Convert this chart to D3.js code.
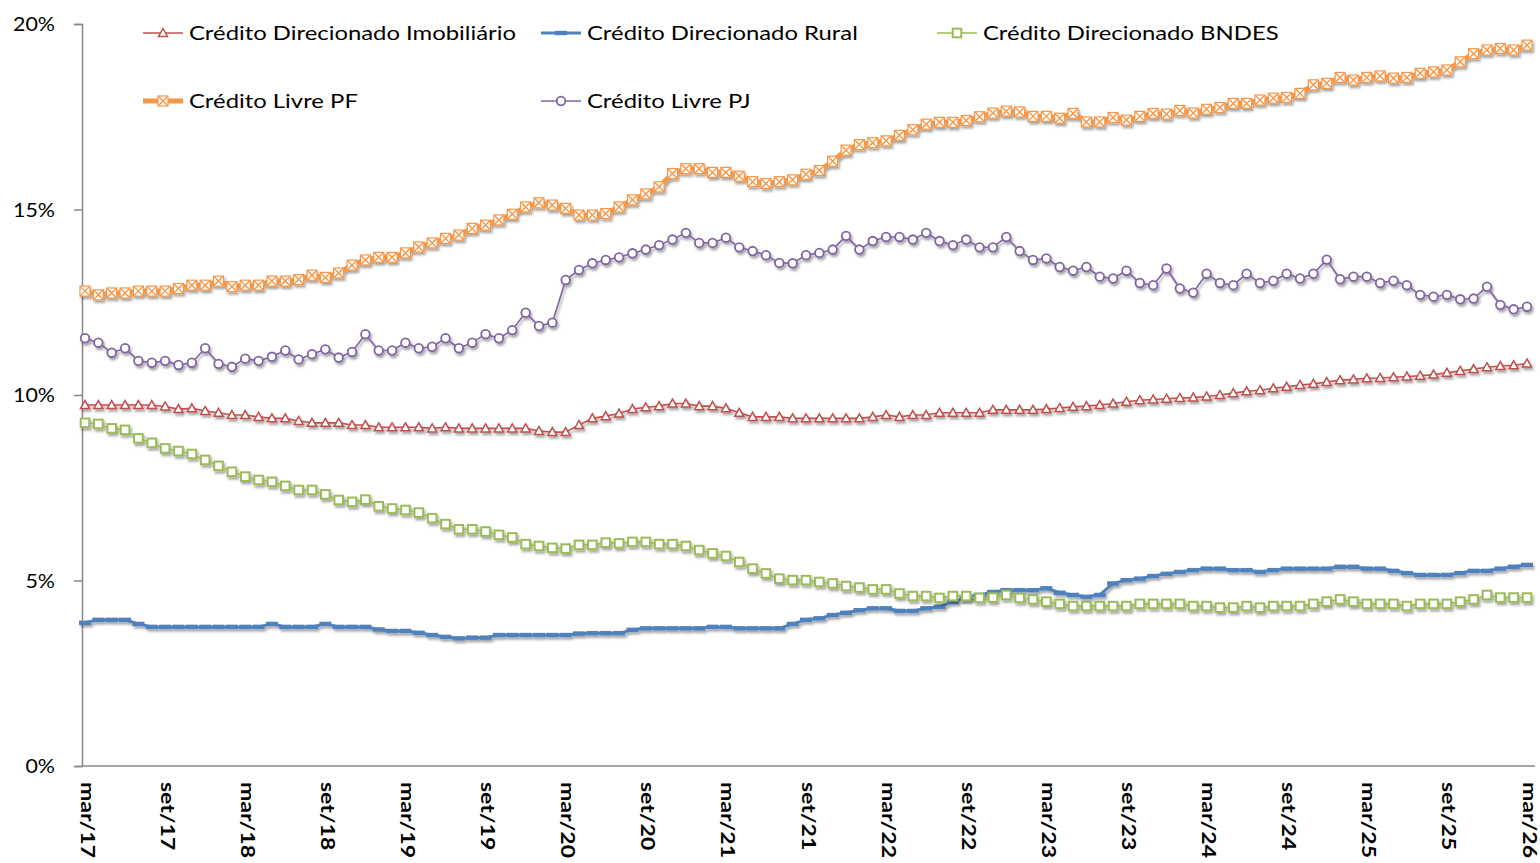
<!DOCTYPE html>
<html><head><meta charset="utf-8">
<script src="https://cdn.jsdelivr.net/npm/d3@7"></script>
<style>body{margin:0;background:#fff}svg{display:block}</style>
</head><body>
<svg id="chart" width="1540" height="863"></svg>
<script>
const monthAbbr = ["jan","fev","mar","abr","mai","jun","jul","ago","set","out","nov","dez"];
const categories = [];
for (let k = 0; k < 109; k++) { const m = (2 + k) % 12, yr = 17 + Math.floor((2 + k) / 12); categories.push(monthAbbr[m] + "/" + yr); }
const tickLabels = ["mar/17","set/17","mar/18","set/18","mar/19","set/19","mar/20","set/20","mar/21","set/21","mar/22","set/22","mar/23","set/23","mar/24","set/24","mar/25","set/25","mar/26"];
const yTicks = [0, 5, 10, 15, 20];

const imobiliario = [9.73,9.73,9.73,9.73,9.73,9.73,9.69,9.62,9.64,9.57,9.52,9.46,9.46,9.41,9.37,9.37,9.30,9.25,9.25,9.25,9.19,9.19,9.13,9.13,9.13,9.13,9.10,9.13,9.10,9.10,9.10,9.10,9.10,9.10,9.03,9.00,9.00,9.19,9.37,9.43,9.50,9.62,9.67,9.70,9.77,9.77,9.70,9.70,9.64,9.52,9.41,9.41,9.41,9.37,9.37,9.37,9.37,9.37,9.37,9.41,9.46,9.41,9.46,9.46,9.52,9.52,9.52,9.52,9.60,9.60,9.60,9.60,9.62,9.65,9.68,9.70,9.73,9.77,9.82,9.86,9.88,9.90,9.92,9.93,9.96,10.00,10.05,10.10,10.13,10.18,10.22,10.27,10.30,10.35,10.40,10.42,10.45,10.46,10.48,10.50,10.52,10.55,10.60,10.65,10.70,10.75,10.78,10.80,10.85];
const rural = [3.86,3.94,3.94,3.94,3.83,3.75,3.75,3.75,3.75,3.75,3.75,3.75,3.75,3.75,3.83,3.75,3.75,3.75,3.83,3.75,3.75,3.75,3.68,3.64,3.64,3.59,3.53,3.48,3.44,3.46,3.46,3.53,3.53,3.53,3.53,3.53,3.53,3.57,3.58,3.58,3.58,3.67,3.71,3.71,3.71,3.71,3.71,3.75,3.75,3.71,3.71,3.71,3.71,3.83,3.94,3.98,4.07,4.13,4.20,4.25,4.25,4.18,4.18,4.25,4.29,4.43,4.52,4.61,4.69,4.74,4.74,4.74,4.79,4.67,4.61,4.56,4.61,4.92,5.01,5.05,5.12,5.18,5.23,5.28,5.32,5.32,5.28,5.28,5.23,5.28,5.32,5.32,5.32,5.32,5.37,5.37,5.32,5.32,5.26,5.20,5.15,5.15,5.15,5.20,5.26,5.26,5.32,5.37,5.42];
const bndes = [9.25,9.22,9.10,9.06,8.83,8.71,8.56,8.49,8.41,8.25,8.09,7.93,7.80,7.71,7.66,7.55,7.44,7.44,7.32,7.17,7.12,7.18,7.00,6.94,6.90,6.83,6.68,6.52,6.38,6.38,6.32,6.23,6.16,5.98,5.93,5.88,5.86,5.96,5.96,6.02,6.00,6.04,6.04,5.98,5.98,5.93,5.82,5.73,5.66,5.50,5.32,5.19,5.05,5.01,5.01,4.96,4.92,4.85,4.81,4.76,4.76,4.65,4.58,4.58,4.53,4.58,4.58,4.53,4.54,4.61,4.53,4.49,4.43,4.37,4.31,4.31,4.31,4.31,4.31,4.37,4.37,4.37,4.37,4.31,4.31,4.27,4.27,4.31,4.27,4.31,4.31,4.31,4.37,4.43,4.49,4.43,4.37,4.37,4.37,4.31,4.37,4.37,4.37,4.43,4.49,4.61,4.54,4.54,4.54];
const livrePF = [12.80,12.70,12.75,12.75,12.80,12.80,12.80,12.87,12.96,12.96,13.07,12.92,12.96,12.96,13.07,13.07,13.11,13.23,13.17,13.29,13.50,13.64,13.71,13.71,13.83,13.99,14.10,14.22,14.31,14.49,14.58,14.72,14.87,15.07,15.18,15.12,15.03,14.85,14.85,14.89,15.07,15.26,15.42,15.61,15.97,16.10,16.10,16.00,16.00,15.90,15.75,15.70,15.75,15.80,15.95,16.05,16.30,16.60,16.75,16.80,16.85,17.00,17.15,17.30,17.35,17.35,17.40,17.50,17.60,17.65,17.63,17.51,17.51,17.46,17.59,17.36,17.36,17.48,17.41,17.51,17.59,17.57,17.67,17.60,17.70,17.75,17.86,17.86,17.95,18.00,18.02,18.13,18.36,18.40,18.56,18.49,18.56,18.60,18.54,18.56,18.67,18.71,18.76,18.98,19.20,19.30,19.34,19.30,19.43];
const livrePJ = [11.53,11.41,11.14,11.26,10.92,10.87,10.92,10.81,10.87,11.26,10.84,10.76,10.98,10.92,11.03,11.20,10.96,11.10,11.23,11.01,11.16,11.64,11.20,11.20,11.41,11.26,11.30,11.53,11.26,11.41,11.64,11.53,11.75,12.22,11.86,11.95,13.10,13.37,13.55,13.64,13.71,13.82,13.92,14.04,14.19,14.37,14.10,14.10,14.24,13.98,13.88,13.77,13.56,13.55,13.77,13.83,13.92,14.29,13.92,14.15,14.26,14.26,14.19,14.37,14.15,14.04,14.19,13.98,13.98,14.26,13.88,13.64,13.68,13.45,13.35,13.45,13.19,13.14,13.35,13.02,12.96,13.41,12.87,12.76,13.27,13.02,12.96,13.27,13.02,13.08,13.27,13.14,13.27,13.65,13.12,13.19,13.19,13.02,13.08,12.96,12.70,12.65,12.70,12.58,12.60,12.92,12.43,12.31,12.38];

const seriesNames = ["Crédito Direcionado Imobiliário","Crédito Direcionado Rural","Crédito Direcionado BNDES","Crédito Livre PF","Crédito Livre PJ"];
const seriesValues = [imobiliario, rural, bndes, livrePF, livrePJ];
const seriesColors = ["#C0504D","#4F81BD","#9BBB59","#F79646","#8064A2"];
const seriesWidths = [1.6, 3, 1.6, 5, 1.6];
const seriesMarkers = ["triangle","dash","square","xbox","circle"];

const svg = d3.select("#chart");
const defs = svg.append("defs");
const f = defs.append("filter").attr("id","shadow").attr("x","-5%").attr("y","-5%").attr("width","110%").attr("height","120%");
f.append("feDropShadow").attr("dx",1.5).attr("dy",2.5).attr("stdDeviation",1.3).attr("flood-color","#000").attr("flood-opacity",0.35);

const x = d3.scalePoint().domain(categories).range([85, 1527]);
const y = d3.scaleLinear().domain([0, 20]).range([766, 24]);
const axisColor = "#888";

// y axis
const yAxis = d3.axisLeft(y).tickValues(yTicks).tickSize(8).tickFormat(d => d + "%");
const gy = svg.append("g").attr("transform","translate(82,0)").call(yAxis);
gy.select(".domain").attr("stroke", axisColor).attr("stroke-width",1.5);
gy.selectAll(".tick line").attr("stroke", axisColor).attr("stroke-width",1.5);
gy.selectAll(".tick text").attr("x",-27).attr("font-family","Lato, 'Open Sans', sans-serif").attr("font-size",19).attr("fill","#000").attr("dy","0.35em");

// x axis
const xAxis = d3.axisBottom(x).tickValues(tickLabels).tickSize(0).tickFormat(d => d);
const gx = svg.append("g").attr("transform","translate(0,766)").call(xAxis);
gx.select(".domain").attr("d","M82,0H1535").attr("stroke", axisColor).attr("stroke-width",1.5);
gx.selectAll(".tick text")
  .attr("font-family","Lato, 'Open Sans', sans-serif").attr("font-size",18).attr("font-weight","bold").attr("fill","#000")
  .attr("text-anchor","start").attr("dy",null).attr("y",null)
  .attr("dominant-baseline","central")
  .attr("transform","translate(2,16) rotate(90)");

function stretch(sel, factor) {
  sel.each(function(){ const w = this.getComputedTextLength(); d3.select(this).attr("textLength", w*factor).attr("lengthAdjust","spacingAndGlyphs"); });
}
const firstX = gx.select(".tick text").node();
const kx = 76 / firstX.getComputedTextLength();
stretch(gx.selectAll(".tick text"), kx);
const y20 = gy.selectAll(".tick text").filter(d => d === 20).node();
stretch(gy.selectAll(".tick text"), 42 / y20.getComputedTextLength());

function drawMarker(g, type, color, cx, cy) {
  if (type === "triangle") {
    g.append("path").attr("d", `M${cx},${cy-4.5}L${cx+4.5},${cy+3.5}L${cx-4.5},${cy+3.5}Z`).attr("fill","#fff").attr("stroke",color).attr("stroke-width",1.5);
  } else if (type === "dash") {
    g.append("rect").attr("x",cx-6).attr("y",cy-2.2).attr("width",12).attr("height",4.4).attr("fill",color);
  } else if (type === "square") {
    g.append("rect").attr("x",cx-4.3).attr("y",cy-4.3).attr("width",8.6).attr("height",8.6).attr("fill","#fff").attr("stroke",color).attr("stroke-width",2);
  } else if (type === "xbox") {
    g.append("rect").attr("x",cx-5).attr("y",cy-5).attr("width",10).attr("height",10).attr("fill","#fff").attr("stroke",color).attr("stroke-width",1.2);
    g.append("path").attr("d",`M${cx-4.5},${cy-4.5}L${cx+4.5},${cy+4.5}M${cx+4.5},${cy-4.5}L${cx-4.5},${cy+4.5}`).attr("stroke",color).attr("stroke-width",1.4);
  } else if (type === "circle") {
    g.append("circle").attr("cx",cx).attr("cy",cy).attr("r",4.3).attr("fill","#fff").attr("stroke",color).attr("stroke-width",1.8);
  }
}

const line = d3.line().x((d,i) => x(categories[i])).y(d => y(d));
seriesValues.forEach((vals, s) => {
  const g = svg.append("g").attr("filter","url(#shadow)");
  g.append("path").attr("d", line(vals)).attr("fill","none").attr("stroke",seriesColors[s]).attr("stroke-width",seriesWidths[s]).attr("stroke-linejoin","round");
  vals.forEach((v,i) => drawMarker(g, seriesMarkers[s], seriesColors[s], x(categories[i]), y(v)));
});

// legend
const legendPos = [[143,33],[541,33],[937,33],[143,101],[541,101]];
const lg = svg.append("g");
let kLeg = null;
seriesNames.forEach((name, s) => {
  const [lx, ly] = legendPos[s];
  const g = lg.append("g");
  g.append("line").attr("x1",lx).attr("x2",lx+40).attr("y1",ly).attr("y2",ly).attr("stroke",seriesColors[s]).attr("stroke-width",seriesWidths[s]);
  drawMarker(g, seriesMarkers[s], seriesColors[s], lx+20, ly);
  const t = g.append("text").attr("x",lx+46).attr("y",ly).attr("dy","0.35em").attr("font-family","Lato, 'Open Sans', sans-serif").attr("font-size",19).attr("fill","#000").text(name);
  if (kLeg === null) kLeg = 327 / t.node().getComputedTextLength();
  stretch(t, kLeg);
});
</script>
</body></html>
